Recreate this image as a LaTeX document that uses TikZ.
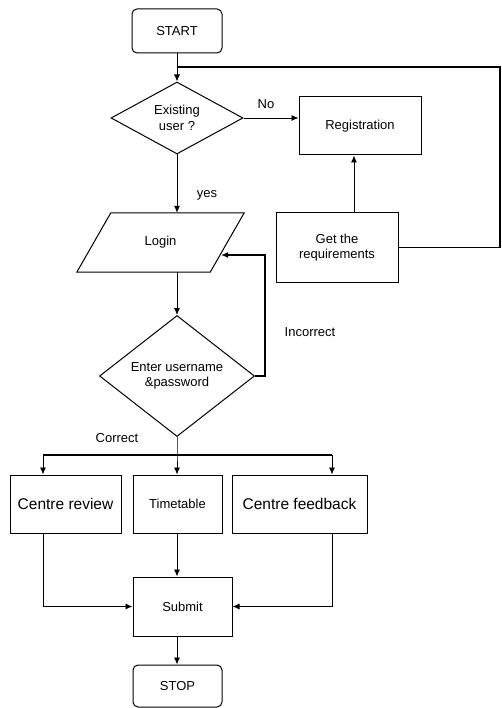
\documentclass[tikz,border=0pt]{standalone}
\usepackage{fontspec}
\setmainfont{Liberation Sans}
\usetikzlibrary{shapes.geometric,arrows.meta}
\begin{document}
\begin{tikzpicture}[x=1pt,y=-1pt,
  every node/.style={font=\fontsize{13}{15.5}\selectfont, align=center},
  box/.style={draw, line width=1pt, inner sep=0pt},
  term/.style={box, rounded corners=5pt},
  dec/.style={draw, diamond, line width=1pt, inner sep=0pt},
  lbl/.style={inner sep=0pt},
  big/.style={font=\fontsize{15.5}{18}\selectfont},
  arr/.style={line width=0.9pt, -{Latex[length=7pt,width=6pt]}},
  thk/.style={line width=1.8pt},
  thkarr/.style={line width=1.8pt, -{Latex[length=7pt,width=6pt]}}]
\useasboundingbox (0,0) rectangle (502,708);

\node[term, minimum width=90pt, minimum height=44pt] (start) at (177,31) {START};
\node[dec, minimum width=132pt, minimum height=72pt] (d1) at (177,118) {Existing\\user ?};
\node[box, minimum width=122pt, minimum height=58pt] (reg) at (360,126) {Registration};
\node[box, minimum width=122pt, minimum height=69pt] (get) at (337,247.5) {Get the\\requirements};
\node[lbl, minimum width=167pt, minimum height=59pt] (login) at (160.5,242.5) {Login};
\draw[line width=1pt] (login.south west) -- ([xshift=-34pt]login.south east) -- (login.north east) -- ([xshift=34pt]login.north west) -- cycle;
\node[dec, minimum width=155pt, minimum height=121pt] (d2) at (177,376) {Enter username\\\&password};

\node[box, big, minimum width=111pt, minimum height=58pt] (cr) at (65.5,504) {Centre review};
\node[box, minimum width=89pt, minimum height=58pt] (tt) at (177.5,504) {Timetable};
\node[box, big, minimum width=135pt, minimum height=58pt] (cf) at (299.5,504) {Centre feedback};
\node[box, minimum width=99pt, minimum height=59pt] (sub) at (182.5,606.5) {Submit};
\node[term, minimum width=89pt, minimum height=42pt] (stop) at (177.5,686) {STOP};

% labels
\node[lbl] (lno) at (266,104) {No};
\node[lbl] (lyes) at (207,195) {yes};
\node[lbl] (linc) at (310,332) {Incorrect};
\node[lbl] (lcor) at (117,438) {Correct};

% coordinates
\coordinate (j1) at (177,67);
\coordinate (loginR) at (221,255);
\coordinate (br) at (177,455);

% connectors
\draw[arr] (start.south) -- (d1.north);
\draw[thk] (get.east) -- (500,247.5) |- (j1);
\draw[arr] (d1.east) -- (d1.east -| reg.west);
\draw[arr] (get.north -| 354,0) -- (reg.south -| 354,0);
\draw[arr] (d1.south) -- (d1.south |- login.north);
\draw[arr] (d1.south |- login.south) -- (d2.north);
\draw[thkarr] (d2.east) -- ++(10,0) |- (loginR);
\draw[arr] (d2.south) -- (br) -- (tt.north -| br);
\draw[thk] (43,455) -- (332,455);
\draw[arr] (43,455) -- (cr.north -| 43,0);
\draw[arr] (332,455) -- (cf.north -| 332,0);
\draw[arr] (cr.south -| 43,0) |- (sub.west);
\draw[arr] (cf.south -| 332,0) |- (sub.east);
\draw[arr] (tt.south -| 177,0) -- (sub.north -| 177,0);
\draw[arr] (sub.south -| 177,0) -- (stop.north -| 177,0);
\end{tikzpicture}
\end{document}
